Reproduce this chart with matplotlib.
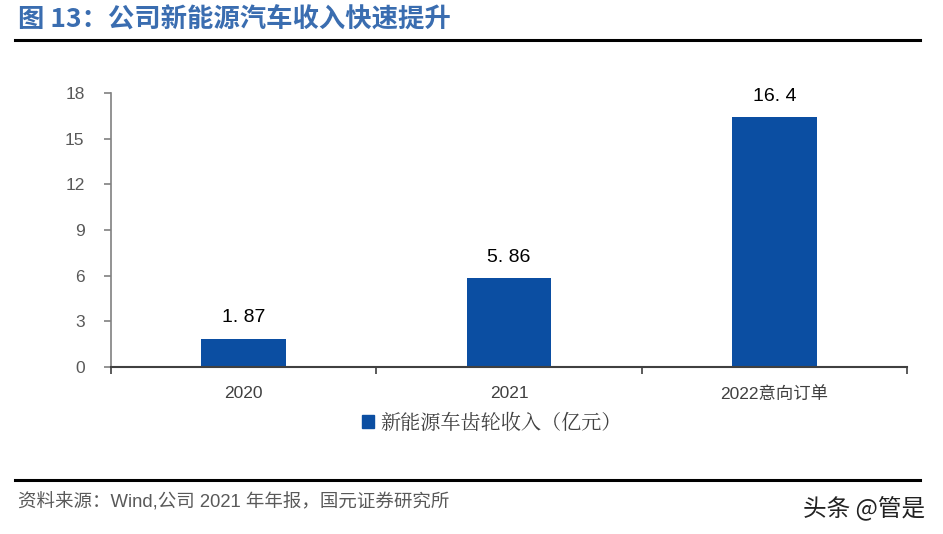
import matplotlib.pyplot as plt
import numpy as np
from matplotlib.lines import Line2D
from matplotlib.patches import Patch

plt.rcParams['font.family'] = ['Liberation Sans', 'Noto Sans CJK SC', 'DejaVu Sans']

# Data
categories = ["2020", "2021", "2022意向订单"]
revenue = [1.87, 5.86, 16.4]
value_labels = ["1. 87", "5. 86", "16. 4"]
y_ticks = [0, 3, 6, 9, 12, 15, 18]

bar_color = "#0b4ea2"
title_color = "#3a6db0"

fig = plt.figure(figsize=(9.43, 5.34), dpi=100)

# Title and rules
fig.text(18 / 943, 1 - 20 / 534, "图 13：公司新能源汽车收入快速提升", fontsize=19, fontweight="bold",
         color=title_color, va="center", ha="left", family=["Noto Sans CJK SC", "DejaVu Sans"])
fig.add_artist(Line2D([15 / 943, 920 / 943], [1 - 40 / 534] * 2, color="black", lw=2.2))
fig.add_artist(Line2D([15 / 943, 920 / 943], [1 - 480 / 534] * 2, color="black", lw=2.2))
fig.text(18 / 943, 1 - 502 / 534, "资料来源：Wind,公司 2021 年年报，国元证券研究所", fontsize=13.3,
         color="#595959", va="center", ha="left")
fig.text(925 / 943, 1 - 508 / 534, "头条 @管是", fontsize=17, color="#222222", va="center",
         ha="right", family=["Noto Sans CJK SC", "DejaVu Sans"])

# Chart
ax = fig.add_axes([111 / 943, 1 - 367 / 534, (907 - 111) / 943, (367 - 93) / 534])
x = np.arange(len(categories))
ax.bar(x, revenue, width=0.32, color=bar_color, zorder=2)
for xi, v, lab in zip(x, revenue, value_labels):
    ax.text(xi, v + 0.8, lab, ha="center", va="bottom", fontsize=14, color="black")

ax.set_xlim(-0.5, len(categories) - 0.5)
ax.set_ylim(0, 18)
ax.set_yticks(y_ticks)
ax.set_yticklabels([str(t) for t in y_ticks], fontsize=12.5, color="#595959")
ax.set_xticks(x)
ax.set_xticklabels(categories, fontsize=12.5, color="#404040")
ax.set_xticks(np.arange(-0.5, len(categories)), minor=True)
ax.tick_params(axis="x", which="major", length=0, pad=14)
ax.tick_params(axis="x", which="minor", length=5, width=1.2, color="#404040")
ax.tick_params(axis="y", length=5, width=1.2, color="#808080", pad=14)

for s in ["top", "right"]:
    ax.spines[s].set_visible(False)
ax.spines["left"].set_color("#808080")
ax.spines["left"].set_linewidth(1.2)
ax.spines["bottom"].set_color("#404040")
ax.spines["bottom"].set_linewidth(1.5)

handles = [Patch(facecolor=bar_color, edgecolor=bar_color)]
leg = fig.legend(handles, ["新能源车齿轮收入（亿元）"], loc="center", bbox_to_anchor=(492 / 943, 1 - 423 / 534),
                 frameon=False, handlelength=0.6, handleheight=0.6, handletextpad=0.3,
                 prop={"family": ["Noto Serif CJK SC", "Noto Sans CJK SC"], "size": 14.5})
for t in leg.get_texts():
    t.set_color("#404040")

fig.savefig("out.png", dpi=100)
